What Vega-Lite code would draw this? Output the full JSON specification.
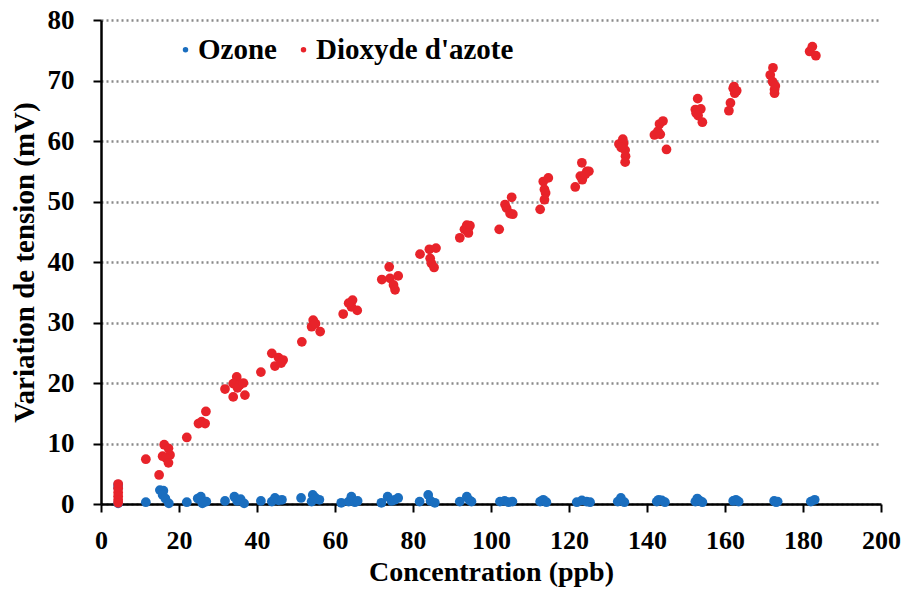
{
  "$schema": "https://vega.github.io/schema/vega-lite/v6.json",
  "width": 780,
  "height": 484,
  "autosize": {"type": "none"},
  "padding": {"left": 101, "top": 20, "right": 24, "bottom": 86},
  "background": "white",
  "config": {
    "font": "Liberation Serif",
    "view": {"stroke": null}
  },
  "data": {
    "values": [
      {"gas": "Ozone", "c": 4.4, "v": 3.2}, {"gas": "Ozone", "c": 4.4, "v": 2.7}, {"gas": "Ozone", "c": 4.4, "v": 0.1},
      {"gas": "Ozone", "c": 11.5, "v": 0.3},
      {"gas": "Ozone", "c": 15.1, "v": 2.3}, {"gas": "Ozone", "c": 16.0, "v": 2.2}, {"gas": "Ozone", "c": 15.8, "v": 1.5}, {"gas": "Ozone", "c": 16.5, "v": 0.9}, {"gas": "Ozone", "c": 17.4, "v": 0.1},
      {"gas": "Ozone", "c": 22.0, "v": 0.3},
      {"gas": "Ozone", "c": 24.8, "v": 0.9}, {"gas": "Ozone", "c": 25.6, "v": 1.2}, {"gas": "Ozone", "c": 26.2, "v": 0.3}, {"gas": "Ozone", "c": 27.0, "v": 0.4}, {"gas": "Ozone", "c": 26.0, "v": 0.1},
      {"gas": "Ozone", "c": 31.8, "v": 0.5}, {"gas": "Ozone", "c": 34.2, "v": 1.2}, {"gas": "Ozone", "c": 34.9, "v": 0.5}, {"gas": "Ozone", "c": 35.8, "v": 0.8}, {"gas": "Ozone", "c": 36.7, "v": 0.1},
      {"gas": "Ozone", "c": 41.0, "v": 0.5}, {"gas": "Ozone", "c": 43.8, "v": 0.4}, {"gas": "Ozone", "c": 44.6, "v": 1.0}, {"gas": "Ozone", "c": 45.5, "v": 0.6}, {"gas": "Ozone", "c": 46.4, "v": 0.7},
      {"gas": "Ozone", "c": 51.3, "v": 1.0}, {"gas": "Ozone", "c": 54.3, "v": 1.5}, {"gas": "Ozone", "c": 54.0, "v": 0.4}, {"gas": "Ozone", "c": 56.0, "v": 0.7}, {"gas": "Ozone", "c": 55.0, "v": 1.0},
      {"gas": "Ozone", "c": 61.6, "v": 0.2}, {"gas": "Ozone", "c": 63.5, "v": 0.4}, {"gas": "Ozone", "c": 64.2, "v": 1.2}, {"gas": "Ozone", "c": 65.1, "v": 0.3}, {"gas": "Ozone", "c": 65.8, "v": 0.5},
      {"gas": "Ozone", "c": 71.9, "v": 0.2}, {"gas": "Ozone", "c": 73.5, "v": 1.2}, {"gas": "Ozone", "c": 74.5, "v": 0.5}, {"gas": "Ozone", "c": 75.3, "v": 0.7}, {"gas": "Ozone", "c": 76.2, "v": 1.0},
      {"gas": "Ozone", "c": 81.7, "v": 0.4}, {"gas": "Ozone", "c": 83.9, "v": 1.5}, {"gas": "Ozone", "c": 84.5, "v": 0.5}, {"gas": "Ozone", "c": 85.6, "v": 0.2},
      {"gas": "Ozone", "c": 92.0, "v": 0.4}, {"gas": "Ozone", "c": 93.8, "v": 1.2}, {"gas": "Ozone", "c": 95.0, "v": 0.4}, {"gas": "Ozone", "c": 94.5, "v": 0.6},
      {"gas": "Ozone", "c": 102.3, "v": 0.4}, {"gas": "Ozone", "c": 103.5, "v": 0.5}, {"gas": "Ozone", "c": 104.5, "v": 0.3}, {"gas": "Ozone", "c": 105.5, "v": 0.4},
      {"gas": "Ozone", "c": 112.6, "v": 0.4}, {"gas": "Ozone", "c": 113.4, "v": 0.7}, {"gas": "Ozone", "c": 114.2, "v": 0.3},
      {"gas": "Ozone", "c": 122.0, "v": 0.3}, {"gas": "Ozone", "c": 123.3, "v": 0.6}, {"gas": "Ozone", "c": 124.5, "v": 0.4}, {"gas": "Ozone", "c": 125.4, "v": 0.3},
      {"gas": "Ozone", "c": 132.5, "v": 0.4}, {"gas": "Ozone", "c": 133.3, "v": 1.0}, {"gas": "Ozone", "c": 134.2, "v": 0.3},
      {"gas": "Ozone", "c": 142.5, "v": 0.4}, {"gas": "Ozone", "c": 143.0, "v": 0.7}, {"gas": "Ozone", "c": 143.8, "v": 0.6}, {"gas": "Ozone", "c": 144.6, "v": 0.3},
      {"gas": "Ozone", "c": 152.4, "v": 0.4}, {"gas": "Ozone", "c": 152.9, "v": 0.9}, {"gas": "Ozone", "c": 153.6, "v": 0.5}, {"gas": "Ozone", "c": 154.2, "v": 0.3},
      {"gas": "Ozone", "c": 162.1, "v": 0.5}, {"gas": "Ozone", "c": 162.8, "v": 0.7}, {"gas": "Ozone", "c": 163.5, "v": 0.4},
      {"gas": "Ozone", "c": 172.6, "v": 0.5}, {"gas": "Ozone", "c": 173.1, "v": 0.3}, {"gas": "Ozone", "c": 173.5, "v": 0.4},
      {"gas": "Ozone", "c": 182.0, "v": 0.4}, {"gas": "Ozone", "c": 183.0, "v": 0.7},

      {"gas": "Dioxyde d'azote", "c": 4.4, "v": 3.3}, {"gas": "Dioxyde d'azote", "c": 4.4, "v": 2.6}, {"gas": "Dioxyde d'azote", "c": 4.4, "v": 1.9}, {"gas": "Dioxyde d'azote", "c": 4.4, "v": 1.3}, {"gas": "Dioxyde d'azote", "c": 4.4, "v": 0.7}, {"gas": "Dioxyde d'azote", "c": 4.4, "v": 0.2},
      {"gas": "Dioxyde d'azote", "c": 11.5, "v": 7.4},
      {"gas": "Dioxyde d'azote", "c": 14.9, "v": 4.8},
      {"gas": "Dioxyde d'azote", "c": 16.2, "v": 9.8}, {"gas": "Dioxyde d'azote", "c": 17.3, "v": 9.2}, {"gas": "Dioxyde d'azote", "c": 15.8, "v": 7.9}, {"gas": "Dioxyde d'azote", "c": 17.7, "v": 8.1}, {"gas": "Dioxyde d'azote", "c": 16.7, "v": 7.6}, {"gas": "Dioxyde d'azote", "c": 17.3, "v": 6.8},
      {"gas": "Dioxyde d'azote", "c": 22.0, "v": 11.0},
      {"gas": "Dioxyde d'azote", "c": 25.0, "v": 13.3}, {"gas": "Dioxyde d'azote", "c": 25.8, "v": 13.6}, {"gas": "Dioxyde d'azote", "c": 26.9, "v": 15.3}, {"gas": "Dioxyde d'azote", "c": 26.7, "v": 13.3},
      {"gas": "Dioxyde d'azote", "c": 31.8, "v": 19.0}, {"gas": "Dioxyde d'azote", "c": 34.8, "v": 21.0}, {"gas": "Dioxyde d'azote", "c": 33.9, "v": 19.9}, {"gas": "Dioxyde d'azote", "c": 35.6, "v": 19.7}, {"gas": "Dioxyde d'azote", "c": 35.0, "v": 19.2}, {"gas": "Dioxyde d'azote", "c": 33.9, "v": 17.7}, {"gas": "Dioxyde d'azote", "c": 36.9, "v": 18.0}, {"gas": "Dioxyde d'azote", "c": 36.5, "v": 20.0},
      {"gas": "Dioxyde d'azote", "c": 41.0, "v": 21.8},
      {"gas": "Dioxyde d'azote", "c": 43.8, "v": 24.9}, {"gas": "Dioxyde d'azote", "c": 45.5, "v": 24.2}, {"gas": "Dioxyde d'azote", "c": 46.7, "v": 23.8}, {"gas": "Dioxyde d'azote", "c": 44.6, "v": 22.8}, {"gas": "Dioxyde d'azote", "c": 46.2, "v": 23.3},
      {"gas": "Dioxyde d'azote", "c": 51.5, "v": 26.8},
      {"gas": "Dioxyde d'azote", "c": 54.4, "v": 30.4}, {"gas": "Dioxyde d'azote", "c": 54.0, "v": 29.3}, {"gas": "Dioxyde d'azote", "c": 56.2, "v": 28.5}, {"gas": "Dioxyde d'azote", "c": 55.0, "v": 29.8},
      {"gas": "Dioxyde d'azote", "c": 62.1, "v": 31.4}, {"gas": "Dioxyde d'azote", "c": 64.5, "v": 33.7}, {"gas": "Dioxyde d'azote", "c": 64.2, "v": 32.6}, {"gas": "Dioxyde d'azote", "c": 65.7, "v": 32.0}, {"gas": "Dioxyde d'azote", "c": 63.5, "v": 33.2},
      {"gas": "Dioxyde d'azote", "c": 72.0, "v": 37.1}, {"gas": "Dioxyde d'azote", "c": 73.9, "v": 39.2}, {"gas": "Dioxyde d'azote", "c": 74.1, "v": 37.3}, {"gas": "Dioxyde d'azote", "c": 76.2, "v": 37.7}, {"gas": "Dioxyde d'azote", "c": 75.0, "v": 36.2}, {"gas": "Dioxyde d'azote", "c": 75.4, "v": 35.4},
      {"gas": "Dioxyde d'azote", "c": 81.8, "v": 41.3}, {"gas": "Dioxyde d'azote", "c": 84.2, "v": 42.1}, {"gas": "Dioxyde d'azote", "c": 85.9, "v": 42.3}, {"gas": "Dioxyde d'azote", "c": 84.4, "v": 40.6}, {"gas": "Dioxyde d'azote", "c": 84.7, "v": 39.8}, {"gas": "Dioxyde d'azote", "c": 85.4, "v": 39.1},
      {"gas": "Dioxyde d'azote", "c": 92.0, "v": 44.0}, {"gas": "Dioxyde d'azote", "c": 93.8, "v": 46.1}, {"gas": "Dioxyde d'azote", "c": 94.0, "v": 45.2}, {"gas": "Dioxyde d'azote", "c": 93.2, "v": 45.4}, {"gas": "Dioxyde d'azote", "c": 94.6, "v": 46.0}, {"gas": "Dioxyde d'azote", "c": 94.2, "v": 44.8},
      {"gas": "Dioxyde d'azote", "c": 102.1, "v": 45.4}, {"gas": "Dioxyde d'azote", "c": 103.6, "v": 49.5}, {"gas": "Dioxyde d'azote", "c": 104.0, "v": 48.9}, {"gas": "Dioxyde d'azote", "c": 104.9, "v": 48.0}, {"gas": "Dioxyde d'azote", "c": 105.3, "v": 50.7}, {"gas": "Dioxyde d'azote", "c": 105.6, "v": 47.9},
      {"gas": "Dioxyde d'azote", "c": 112.6, "v": 48.7}, {"gas": "Dioxyde d'azote", "c": 113.4, "v": 53.3}, {"gas": "Dioxyde d'azote", "c": 113.7, "v": 52.0}, {"gas": "Dioxyde d'azote", "c": 114.0, "v": 51.4}, {"gas": "Dioxyde d'azote", "c": 113.7, "v": 50.3}, {"gas": "Dioxyde d'azote", "c": 114.7, "v": 53.9},
      {"gas": "Dioxyde d'azote", "c": 121.6, "v": 52.4}, {"gas": "Dioxyde d'azote", "c": 123.3, "v": 56.4}, {"gas": "Dioxyde d'azote", "c": 122.9, "v": 54.2}, {"gas": "Dioxyde d'azote", "c": 123.4, "v": 53.6}, {"gas": "Dioxyde d'azote", "c": 124.6, "v": 55.0}, {"gas": "Dioxyde d'azote", "c": 125.1, "v": 55.0}, {"gas": "Dioxyde d'azote", "c": 124.2, "v": 54.5},
      {"gas": "Dioxyde d'azote", "c": 132.8, "v": 59.5}, {"gas": "Dioxyde d'azote", "c": 133.8, "v": 60.3}, {"gas": "Dioxyde d'azote", "c": 134.0, "v": 59.6}, {"gas": "Dioxyde d'azote", "c": 134.4, "v": 58.5}, {"gas": "Dioxyde d'azote", "c": 134.5, "v": 57.5}, {"gas": "Dioxyde d'azote", "c": 134.4, "v": 56.5}, {"gas": "Dioxyde d'azote", "c": 133.4, "v": 58.9},
      {"gas": "Dioxyde d'azote", "c": 141.9, "v": 61.0}, {"gas": "Dioxyde d'azote", "c": 143.2, "v": 62.8}, {"gas": "Dioxyde d'azote", "c": 144.1, "v": 63.3}, {"gas": "Dioxyde d'azote", "c": 142.8, "v": 61.6}, {"gas": "Dioxyde d'azote", "c": 143.4, "v": 61.1}, {"gas": "Dioxyde d'azote", "c": 145.0, "v": 58.6},
      {"gas": "Dioxyde d'azote", "c": 152.4, "v": 65.2}, {"gas": "Dioxyde d'azote", "c": 153.0, "v": 67.0}, {"gas": "Dioxyde d'azote", "c": 153.8, "v": 65.3}, {"gas": "Dioxyde d'azote", "c": 153.1, "v": 64.2}, {"gas": "Dioxyde d'azote", "c": 154.2, "v": 63.1}, {"gas": "Dioxyde d'azote", "c": 152.6, "v": 64.6},
      {"gas": "Dioxyde d'azote", "c": 161.4, "v": 66.3}, {"gas": "Dioxyde d'azote", "c": 161.0, "v": 65.0}, {"gas": "Dioxyde d'azote", "c": 162.1, "v": 68.7}, {"gas": "Dioxyde d'azote", "c": 162.5, "v": 67.9}, {"gas": "Dioxyde d'azote", "c": 162.3, "v": 69.0}, {"gas": "Dioxyde d'azote", "c": 163.0, "v": 68.3},
      {"gas": "Dioxyde d'azote", "c": 172.3, "v": 72.1}, {"gas": "Dioxyde d'azote", "c": 171.6, "v": 70.9}, {"gas": "Dioxyde d'azote", "c": 172.2, "v": 69.8}, {"gas": "Dioxyde d'azote", "c": 172.7, "v": 68.5}, {"gas": "Dioxyde d'azote", "c": 172.7, "v": 67.9}, {"gas": "Dioxyde d'azote", "c": 172.9, "v": 69.1},
      {"gas": "Dioxyde d'azote", "c": 181.7, "v": 74.8}, {"gas": "Dioxyde d'azote", "c": 182.4, "v": 75.6}, {"gas": "Dioxyde d'azote", "c": 183.3, "v": 74.1}
    ]
  },
  "mark": {"type": "point", "filled": true, "opacity": 1, "size": 95, "shape": "circle"},
  "encoding": {
    "x": {
      "field": "c", "type": "quantitative",
      "scale": {"domain": [0, 200], "nice": false, "zero": true},
      "axis": {
        "values": [0, 20, 40, 60, 80, 100, 120, 140, 160, 180, 200],
        "grid": false, "labelFlush": false, "labelOverlap": false, "labelBound": false,
        "title": "Concentration (ppb)",
        "titleFont": "Liberation Serif", "titleFontSize": 28, "titleFontWeight": "bold", "titleColor": "black", "titlePadding": 5,
        "labelFont": "Liberation Serif", "labelFontSize": 26, "labelFontWeight": "bold", "labelColor": "black", "labelPadding": 15,
        "domainColor": "black", "domainWidth": 2.5, "tickColor": "black", "tickWidth": 2, "tickSize": 8
      }
    },
    "y": {
      "field": "v", "type": "quantitative",
      "scale": {"domain": [0, 80], "nice": false},
      "axis": {
        "values": [0, 10, 20, 30, 40, 50, 60, 70, 80],
        "grid": true, "gridColor": "#8a8a8a", "gridDash": [2, 3], "gridWidth": 2.5,
        "labelFlush": false, "labelOverlap": false,
        "title": "Variation de tension (mV)",
        "titleFont": "Liberation Serif", "titleFontSize": 29, "titleFontWeight": "bold", "titleColor": "black", "titlePadding": 8,
        "labelFont": "Liberation Serif", "labelFontSize": 27, "labelFontWeight": "bold", "labelColor": "black", "labelPadding": 19,
        "domainColor": "black", "domainWidth": 2.5, "tickColor": "black", "tickWidth": 2, "tickSize": 8
      }
    },
    "color": {
      "field": "gas", "type": "nominal",
      "scale": {"domain": ["Ozone", "Dioxyde d'azote"], "range": ["#1a6ebf", "#e8232a"]},
      "legend": {
        "title": null, "orient": "none", "direction": "horizontal",
        "legendX": 70, "legendY": 15, "padding": 0,
        "symbolType": "circle", "symbolSize": 30, "symbolStrokeWidth": 0,
        "labelFont": "Liberation Serif", "labelFontSize": 29, "labelFontWeight": "bold", "labelColor": "black",
        "labelLimit": 0, "labelOffset": -2, "columnPadding": 12
      }
    }
  }
}
